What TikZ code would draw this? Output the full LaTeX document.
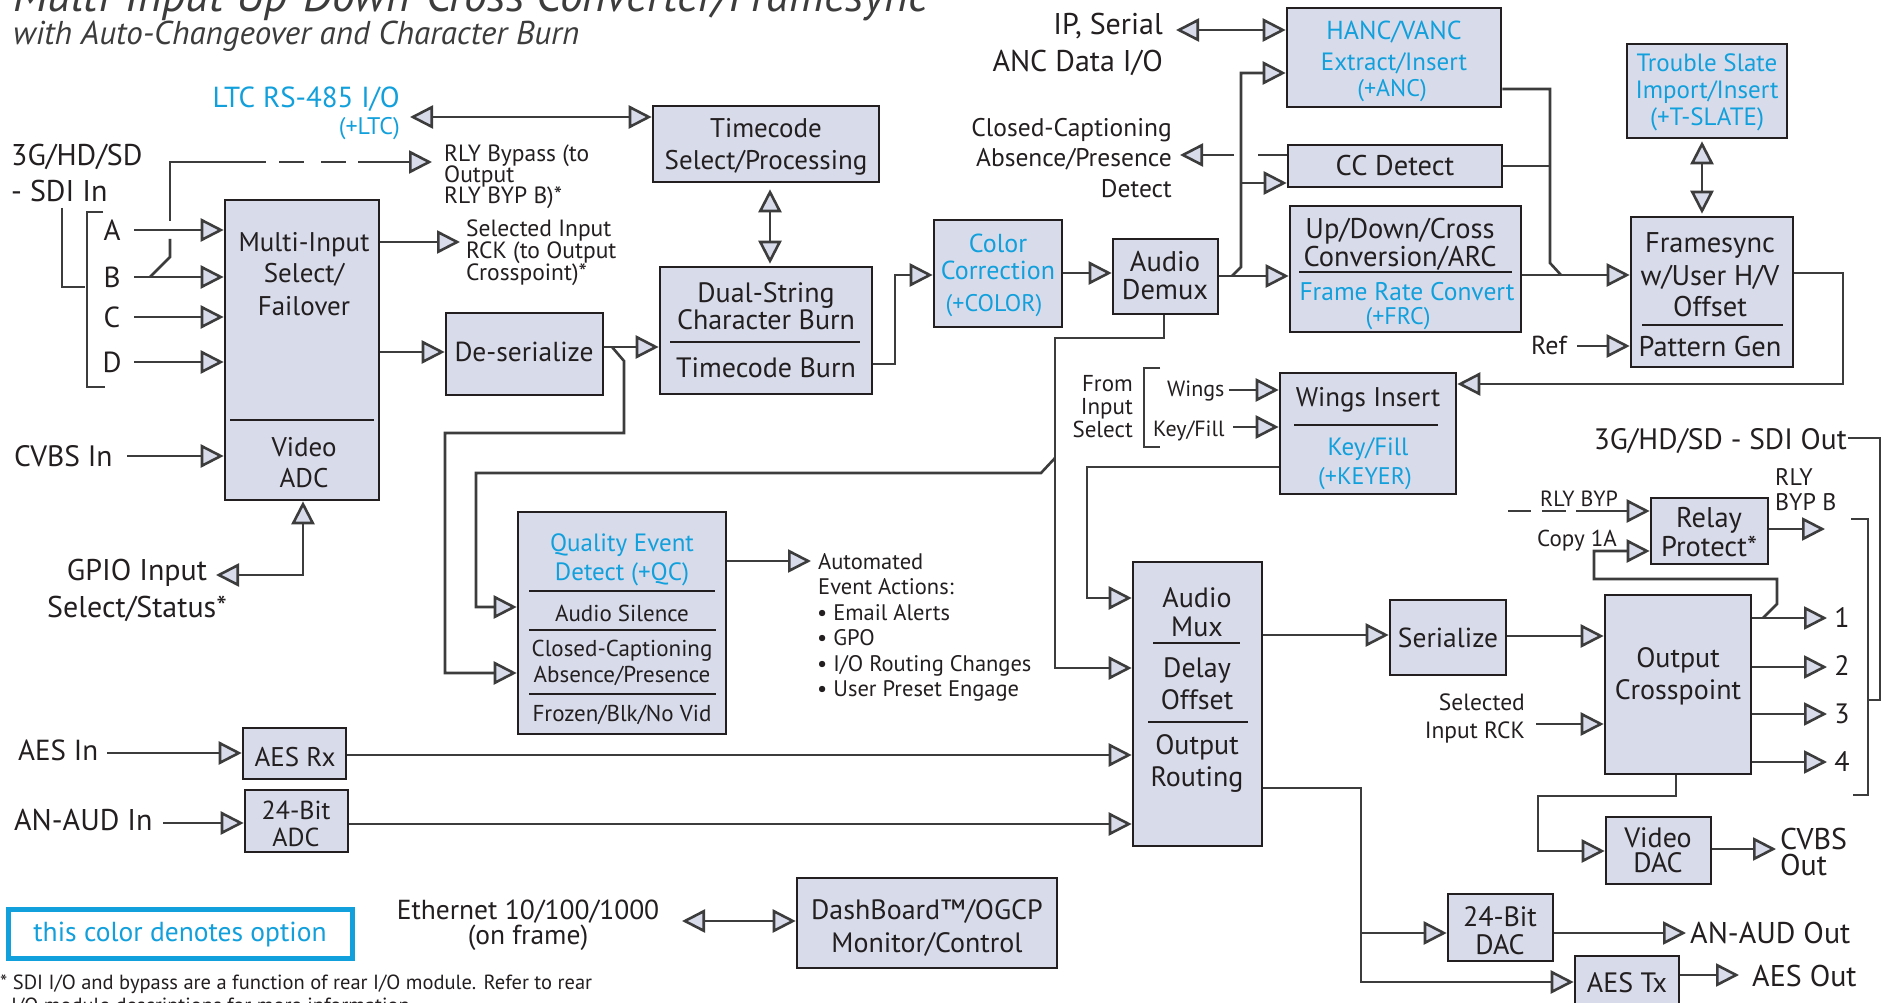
\documentclass[tikz,border=0pt]{standalone}
\usepackage{fontspec}
\setmainfont{PT Sans}
\usetikzlibrary{arrows.meta,calc}
\definecolor{boxfill}{RGB}{216,219,234}
\definecolor{optblue}{RGB}{18,160,220}
\definecolor{lncol}{RGB}{60,60,60}
\definecolor{bdcol}{RGB}{35,31,32}
\newcommand\mkbox[5]{\node[box, minimum width={(#4)-(#2)}, minimum height={(#5)-(#3)}] (#1) at ({((#2)+(#4))/2},{((#3)+(#5))/2}) {};}
\begin{document}
\begin{tikzpicture}[x=1pt,y=-1pt,
  >={Triangle[length=23pt,width=23pt,fill=boxfill]},
  tc/.style={font=\fontsize{#1}{#1}\selectfont, inner sep=0pt, anchor=base, yshift={-0.35*#1}, text=bdcol},
  tl/.style={tc=#1, anchor=base west},
  tr/.style={tc=#1, anchor=base east},
  ob/.style={text=optblue},
  box/.style={draw=bdcol, fill=boxfill, line width=2.6pt, inner sep=0pt},
  ln/.style={draw=lncol, line width=2.6pt},
  thinln/.style={draw=lncol, line width=1.6pt},
  dv/.style={draw=bdcol, line width=1.8pt}]
\useasboundingbox (0,0) rectangle (1885,1003);
\clip (0,0) rectangle (1885,1003);
\fill[white] (0,0) rectangle (1885,1003);

% title
\node[font=\fontsize{46}{46}\selectfont\itshape, inner sep=0pt, anchor=base west, text=lncol] (title) at (13,12) {Multi-Input Up-Down-Cross Converter/Framesync};
\node[font=\fontsize{33}{33}\selectfont\itshape, inner sep=0pt, anchor=base west, text=lncol] (subtitle) at (13,45) {with Auto-Changeover and Character Burn};

% boxes
\mkbox{multi}{225}{200}{379}{500}
\mkbox{deser}{446}{313}{603}{395}
\mkbox{tcsel}{653}{106}{879}{182}
\mkbox{dual}{660}{267}{872}{394}
\mkbox{colcor}{934}{220}{1062}{327}
\mkbox{demux}{1113}{239}{1218}{314}
\mkbox{hanc}{1287}{8}{1501}{107}
\mkbox{ccdet}{1288}{145}{1502}{187}
\mkbox{updown}{1290}{206}{1521}{332}
\mkbox{tslate}{1627}{44}{1787}{138}
\mkbox{fsync}{1631}{217}{1793}{367}
\mkbox{wings}{1280}{373}{1456}{494}
\mkbox{qc}{518}{512}{726}{734}
\mkbox{mux}{1133}{562}{1262}{846}
\mkbox{ser}{1390}{600}{1506}{675}
\mkbox{xpt}{1605}{595}{1751}{774}
\mkbox{relay}{1651}{498}{1768}{564}
\mkbox{vdac}{1606}{817}{1711}{884}
\mkbox{adac}{1448}{894}{1553}{961}
\mkbox{aestx}{1575}{956}{1679}{1025}
\mkbox{aesrx}{243}{728}{346}{779}
\mkbox{aadc}{245}{790}{348}{852}
\mkbox{dash}{797}{878}{1057}{968}
\node[draw=optblue, line width=5pt, fill=white, minimum width=344pt, minimum height=49pt, inner sep=0pt] (legend) at (180,933.5) {};

% dividers
\draw[dv] (230,420) -- (374,420);
\draw[dv] (670,342) -- (860,342);
\draw[dv] (1299,272) -- (1512,272);
\draw[dv] (1642,325) -- (1783,325);
\draw[dv] (1294,425) -- (1438,425);
\draw[dv] (529,591) -- (715,591);
\draw[dv] (529,630) -- (716,630);
\draw[dv] (529,694) -- (716,694);
\draw[dv] (1153,643) -- (1240,643);
\draw[dv] (1148,722) -- (1248,722);

% box texts
\node[tc=27] (t1) at (304,242) {Multi-Input};
\node[tc=27] (t2) at (304,273) {Select/};
\node[tc=27] (t3) at (304,306) {Failover};
\node[tc=27] (t4) at (304,447) {Video};
\node[tc=27] (t5) at (304,478) {ADC};
\node[tc=27.5] (t6) at (524,352) {De-serialize};
\node[tc=27] (t7) at (766,128) {Timecode};
\node[tc=27] (t8) at (766,160) {Select/Processing};
\node[tc=28] (t9) at (766,293) {Dual-String};
\node[tc=28] (t10) at (766,320) {Character Burn};
\node[tc=28] (t11) at (766,368) {Timecode Burn};
\node[tc=26,ob] (t12) at (998,243) {Color};
\node[tc=26,ob] (t13) at (998,270) {Correction};
\node[tc=24,ob] (t14) at (994,303) {(+COLOR)};
\node[tc=28.5] (t15) at (1165,262) {Audio};
\node[tc=28.5] (t16) at (1165,290) {Demux};
\node[tc=26,ob] (t17) at (1394,30) {HANC/VANC};
\node[tc=25,ob] (t18) at (1394,62) {Extract/Insert};
\node[tc=24,ob] (t19) at (1392,88) {(+ANC)};
\node[tc=28.5] (t20) at (1395,166) {CC Detect};
\node[tc=28.5] (t21) at (1400,229) {Up/Down/Cross};
\node[tc=28.5] (t22) at (1400,257) {Conversion/ARC};
\node[tc=25.5,ob] (t23) at (1407,292) {Frame Rate Convert};
\node[tc=24,ob] (t24) at (1398,316) {(+FRC)};
\node[tc=25,ob] (t25) at (1707,63) {Trouble Slate};
\node[tc=25,ob] (t26) at (1707,90) {Import/Insert};
\node[tc=25,ob] (t27) at (1707,117) {(+T-SLATE)};
\node[tc=28.5] (t28) at (1710,243) {Framesync};
\node[tc=28.5] (t29) at (1710,276) {w/User H/V};
\node[tc=28.5] (t30) at (1710,307) {Offset};
\node[tc=28.5] (t31) at (1710,347) {Pattern Gen};
\node[tc=27] (t32) at (1368,397) {Wings Insert};
\node[tc=25,ob] (t33) at (1368,447) {Key/Fill};
\node[tc=24,ob] (t34) at (1365,476) {(+KEYER)};
\node[tc=25,ob] (t35) at (622,543) {Quality Event};
\node[tc=25,ob] (t36) at (622,572) {Detect (+QC)};
\node[tc=23] (t37) at (622,613) {Audio Silence};
\node[tc=23] (t38) at (622,648) {Closed-Captioning};
\node[tc=23] (t39) at (622,674) {Absence/Presence};
\node[tc=23] (t40) at (622,713) {Frozen/Blk/No Vid};
\node[tc=28] (t41) at (1197,598) {Audio};
\node[tc=28] (t42) at (1197,627) {Mux};
\node[tc=28] (t43) at (1197,668) {Delay};
\node[tc=28] (t44) at (1197,700) {Offset};
\node[tc=28] (t45) at (1197,745) {Output};
\node[tc=28] (t46) at (1197,777) {Routing};
\node[tc=27.5] (t47) at (1448,638) {Serialize};
\node[tc=28] (t48) at (1678,658) {Output};
\node[tc=28] (t49) at (1678,690) {Crosspoint};
\node[tc=28.5] (t50) at (1709,518) {Relay};
\node[tc=28.5] (t51) at (1709,547) {Protect*};
\node[tc=28] (t52) at (1658,838) {Video};
\node[tc=28] (t53) at (1658,863) {DAC};
\node[tc=28] (t54) at (1500,917) {24-Bit};
\node[tc=28] (t55) at (1500,945) {DAC};
\node[tc=28] (t56) at (1627,983) {AES Tx};
\node[tc=27] (t57) at (295,757) {AES Rx};
\node[tc=26] (t58) at (296,810) {24-Bit};
\node[tc=26] (t59) at (296,837) {ADC};
\node[tc=28] (t60) at (927,910) {DashBoard™/OGCP};
\node[tc=28] (t61) at (927,943) {Monitor/Control};
\node[tc=27.5,ob] (t62) at (180,932) {this color denotes option};

% outside labels
\node[tl=30] (l3g) at (11,155) {3G/HD/SD};
\node[tl=30] (lsdi) at (11,191) {- SDI In};
\node[tc=29] (lA) at (112,230) {A};
\node[tc=29] (lB) at (112,277) {B};
\node[tc=29] (lC) at (112,317) {C};
\node[tc=29] (lD) at (112,362) {D};
\node[tl=29.5] (lcvbs) at (14,456) {CVBS In};
\node[tc=30] (lgpio1) at (137,570) {GPIO Input};
\node[tc=30] (lgpio2) at (137,607) {Select/Status*};
\node[tl=29] (laes) at (18,750) {AES In};
\node[tl=30] (lanaud) at (14,820) {AN-AUD In};
\node[tl=23.5] (lrly1) at (444,153) {RLY Bypass (to};
\node[tl=23.5] (lrly2) at (444,174) {Output};
\node[tl=23.5] (lrly3) at (444,195) {RLY BYP B)*};
\node[tl=23.5] (lsel1) at (466,228) {Selected Input};
\node[tl=23.5] (lsel2) at (466,250) {RCK (to Output};
\node[tl=23.5] (lsel3) at (466,272) {Crosspoint)*};
\node[tr=29,ob] (lltc1) at (400,97) {LTC RS-485 I/O};
\node[tr=24,ob] (lltc2) at (400,126) {(+LTC)};
\node[tr=30] (lip1) at (1163,24) {IP, Serial};
\node[tr=30] (lip2) at (1163,61) {ANC Data I/O};
\node[tr=25.5] (lcc1) at (1172,128) {Closed-Captioning};
\node[tr=25.5] (lcc2) at (1172,158) {Absence/Presence};
\node[tr=25.5] (lcc3) at (1172,189) {Detect};
\node[tl=22.5] (lau1) at (818,562) {Automated};
\node[tl=22.5] (lau2) at (818,587) {Event Actions:};
\node[tl=22.5] (lau3) at (817,613) {• Email Alerts};
\node[tl=22.5] (lau4) at (817,638) {• GPO};
\node[tl=22.5] (lau5) at (817,664) {• I/O Routing Changes};
\node[tl=22.5] (lau6) at (817,689) {• User Preset Engage};
\node[tr=23] (lfr1) at (1133,383) {From};
\node[tr=23] (lfr2) at (1133,406) {Input};
\node[tr=23] (lfr3) at (1133,429) {Select};
\node[tl=22] (lwing) at (1167,389) {Wings};
\node[tl=22] (lkey) at (1153,429) {Key/Fill};
\node[tl=26] (lref) at (1531,345) {Ref};
\node[tr=29.5] (lsdo) at (1847,439) {3G/HD/SD - SDI Out};
\node[tl=22] (lbyp) at (1540,499) {RLY BYP};
\node[tl=23] (lcopy) at (1537,538) {Copy 1A};
\node[tl=24] (lbb1) at (1775,477) {RLY};
\node[tl=24] (lbb2) at (1775,502) {BYP B};
\node[tc=28] (lo1) at (1842,618) {1};
\node[tc=28] (lo2) at (1842,666) {2};
\node[tc=28] (lo3) at (1842,714) {3};
\node[tc=28] (lo4) at (1842,762) {4};
\node[tr=23.5] (lrck1) at (1525,702) {Selected};
\node[tr=23.5] (lrck2) at (1525,730) {Input RCK};
\node[tl=30] (lcv1) at (1780,839) {CVBS};
\node[tl=30] (lcv2) at (1780,865) {Out};
\node[tl=30] (lanout) at (1690,933) {AN-AUD Out};
\node[tl=30] (laesout) at (1752,976) {AES Out};
\node[tc=27.5] (leth1) at (528,910) {Ethernet 10/100/1000};
\node[tc=27.5] (leth2) at (528,935) {(on frame)};
\node[tl=20.5] (lfoot1) at (0,982) {* SDI I/O and bypass are a function of rear I/O module. Refer to rear};
\node[tl=20.5] (lfoot2) at (11,1005) {I/O module descriptions for more information.};

% free-end coordinates
\coordinate (rlyb) at (432,162);
\coordinate (selin) at (460,242);
\coordinate (gpio) at (216,575);
\coordinate (ltcL) at (410,117);
\coordinate (ccL) at (1180,155);
\coordinate (ipL) at (1176,30);
\coordinate (autoL) at (811,561);
\coordinate (ethR) at (682,921);

% connectors
\draw[ln,->] (134,230) -- (multi.west |- 0,230);
\draw[ln,->] (134,277) -- (multi.west |- 0,277);
\draw[ln,->] (134,317) -- (multi.west |- 0,317);
\draw[ln,->] (134,362) -- (multi.west |- 0,362);
\draw[ln,->] (127,456) -- (multi.west |- 0,456);
\draw[ln] (150,277) -- (170,257) -- (170,239);
\draw[ln] (170,221) -- (170,162) -- (266,162);
\draw[ln] (279,162) -- (304,162);
\draw[ln] (321,162) -- (346,162);
\draw[ln,->] (358,162) -- (rlyb);
\draw[ln,->] (multi.east |- 0,242) -- (selin);
\draw[ln,->] (multi.east |- 0,352) -- (deser.west |- 0,352);
\draw[ln,<->] (gpio) -- (303,575) -- (multi.south -| 303,0);
\draw[ln,<->] (ltcL) -- (tcsel.west |- ltcL);
\draw[ln,<->] ([xshift=4pt,yshift=-6pt]tcsel.south) -- ([xshift=4pt,yshift=2pt]dual.north);
\draw[ln,->] (deser.east |- 0,347) -- (dual.west |- 0,347);
\draw[ln,->] (612,347) -- (624,361) -- (624,433) -- (445,433) -- (445,673) -- (qc.west |- 0,673);
\draw[ln,->] (dual.east |- 0,364) -- (895,364) -- (895,275) -- (colcor.west |- 0,275);
\draw[ln,->] (colcor.east |- 0,273) -- (demux.west |- 0,273);
\draw[ln,->] (demux.east |- 0,276) -- (updown.west |- 0,276);
\draw[ln,->] (1232,276) -- (1241,267) -- (1241,73) -- (hanc.west |- 0,73);
\draw[ln,->] (1241,183) -- (ccdet.west |- 0,183);
\draw[ln] (ccdet.west |- 0,155) -- (1258,155);
\draw[ln,->] (1234,155) -- (ccL);
\draw[ln,<->] (ipL) -- (hanc.west |- ipL);
\draw[ln] (hanc.east |- 0,89) -- (1550,89) -- (1550,263) -- (1561,275);
\draw[ln] (ccdet.east) -- (1550,166);
\draw[ln,->] (updown.east |- 0,275) -- (fsync.west |- 0,275);
\draw[ln,<->] ([xshift=-5pt,yshift=-2pt]tslate.south) -- ([xshift=-10pt,yshift=2pt]fsync.north);
\draw[ln,->] (1577,346) -- (fsync.west |- 0,346);
\draw[ln,->] (fsync.east |- 0,273) -- (1843,273) -- (1843,384) -- (wings.east |- 0,384);
\draw[ln,->] (1229,390) -- (wings.west |- 0,390);
\draw[ln,->] (1233,427) -- (wings.west |- 0,427);
\draw[ln,->] (wings.west |- 0,467) -- (1087,467) -- (1087,598) -- (mux.west |- 0,598);
\draw[ln,->] (demux.south -| 1164,0) -- (1164,338) -- (1055,338) -- (1055,668) -- (mux.west |- 0,668);
\draw[ln,->] (1055,458) -- (1041,473) -- (476,473) -- (476,607) -- (qc.west |- 0,607);
\draw[ln,->] (qc.east |- 0,561) -- (autoL);
\draw[ln,->] (107,753) -- (aesrx.west |- 0,753);
\draw[ln,->] (aesrx.east |- 0,755) -- (mux.west |- 0,755);
\draw[ln,->] (163,823) -- (aadc.west |- 0,823);
\draw[ln,->] (aadc.east |- 0,824) -- (mux.west |- 0,824);
\draw[ln,<->] (ethR) -- (dash.west |- ethR);
\draw[ln,->] (mux.east |- 0,635) -- (ser.west |- 0,635);
\draw[ln,->] (ser.east |- 0,636) -- (xpt.west |- 0,636);
\draw[ln,->] (1536,724) -- (xpt.west |- 0,724);
\foreach \yy in {618,667,714,762} \draw[ln,->] (xpt.east |- 0,\yy) -- (1827,\yy);
\draw[ln,->] (1763,618) -- (1777,604) -- (1777,579) -- (1594,579) -- (1594,551) -- (relay.west |- 0,551);
\draw[ln] (1508,511) -- (1531,511);
\draw[ln] (1542,511) -- (1566,511);
\draw[ln,->] (1576,511) -- (relay.west |- 0,511);
\draw[ln,->] (relay.east |- 0,529) -- (1825,529);
\draw[ln,->] (xpt.south -| 1676,0) -- (1676,796) -- (1538,796) -- (1538,851) -- (vdac.west |- 0,851);
\draw[ln,->] (vdac.east |- 0,849) -- (1776,849);
\draw[ln,->] (mux.east |- 0,788) -- (1361,788) -- (1361,982) -- (aestx.west |- 0,982);
\draw[ln,->] (1361,933) -- (adac.west |- 0,933);
\draw[ln,->] (adac.east |- 0,933) -- (1686,933);
\draw[ln,->] (aestx.east |- 0,975) -- (1739,975);

% brackets
\draw[thinln] (62,208) -- (62,287) -- (85,287);
\draw[thinln] (103,212) -- (87,212) -- (87,387) -- (105,387);
\draw[thinln] (1160,368) -- (1144,368) -- (1144,447) -- (1160,447);
\draw[thinln] (1848,438) -- (1880,438) -- (1880,700) -- (1868,700);
\draw[thinln] (1851,519) -- (1868,519) -- (1868,795) -- (1853,795);
\end{tikzpicture}
\end{document}
